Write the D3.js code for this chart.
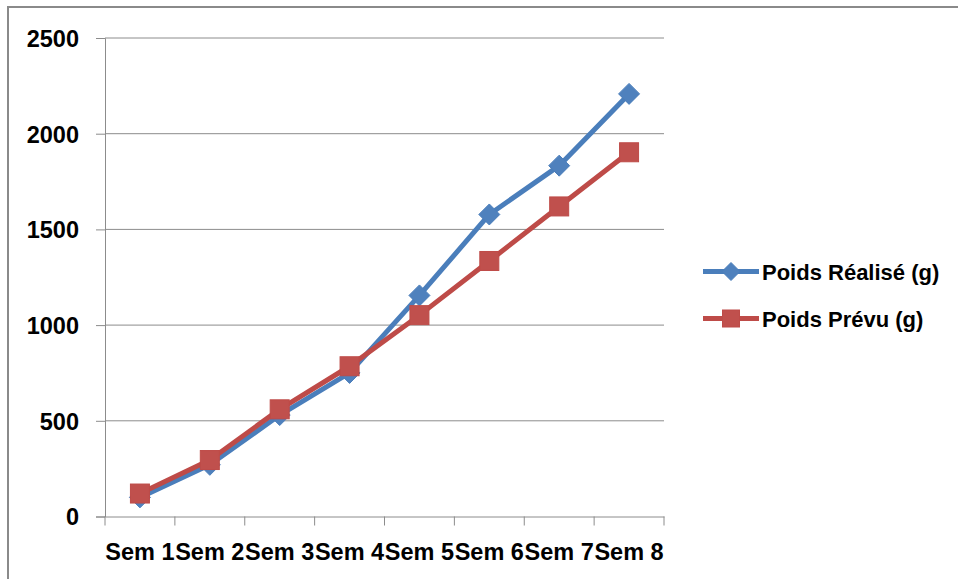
<!DOCTYPE html>
<html>
<head>
<meta charset="utf-8">
<script src="https://cdn.jsdelivr.net/npm/d3@7"></script>
<style>
  html, body { margin: 0; padding: 0; background: #fff; }
  svg { display: block; }
  text { font-family: "Liberation Sans", Arial, sans-serif; font-weight: bold; fill: #000; }
</style>
</head>
<body>
<svg id="chart" width="958" height="579"></svg>
<script>
const categories = ["Sem 1", "Sem 2", "Sem 3", "Sem 4", "Sem 5", "Sem 6", "Sem 7", "Sem 8"];
const realise = [100, 270, 530, 750, 1155, 1578, 1833, 2208];
const prevu = [120, 295, 560, 785, 1052, 1335, 1620, 1903];
const seriesNames = ["Poids Réalisé (g)", "Poids Prévu (g)"];
const yTicks = [0, 500, 1000, 1500, 2000, 2500];

const svg = d3.select("#chart");
const W = 958, H = 579;
const plot = { left: 105, right: 664, top: 38, bottom: 516.5 };

// outer frame (left and top visible)
svg.append("path")
  .attr("d", `M8,${H + 2} L8,7 L${W + 2},7`)
  .attr("fill", "none").attr("stroke", "#8a8a8a").attr("stroke-width", 2);

const x = d3.scaleBand().domain(categories).range([plot.left, plot.right]).padding(0);
const y = d3.scaleLinear().domain([0, 2500]).range([plot.bottom, plot.top]);

// gridlines
svg.append("g").selectAll("line").data(yTicks.filter(d => d > 0)).join("line")
  .attr("x1", plot.left).attr("x2", plot.right)
  .attr("y1", d => y(d)).attr("y2", d => y(d))
  .attr("stroke", "#8c8c8c").attr("stroke-width", 1);

// y axis
const yAxis = svg.append("g").attr("transform", `translate(${plot.left},0)`)
  .call(d3.axisLeft(y).tickValues(yTicks).tickSize(9).tickPadding(17).tickFormat(d3.format("d")));
yAxis.select(".domain").attr("stroke", "#8c8c8c");
yAxis.selectAll(".tick line").attr("stroke", "#8c8c8c");
yAxis.selectAll(".tick text").attr("font-size", 23.5).attr("font-family", "Liberation Sans, Arial, sans-serif")
  .attr("font-weight", "bold").attr("fill", "#000").attr("dy", "0.36em");

// x axis
const xAxis = svg.append("g").attr("transform", `translate(0,${plot.bottom})`)
  .call(d3.axisBottom(x).tickSize(0).tickPadding(0));
xAxis.select(".domain").attr("stroke", "#8c8c8c");
xAxis.selectAll(".tick text").attr("font-size", 23.5).attr("font-family", "Liberation Sans, Arial, sans-serif")
  .attr("font-weight", "bold").attr("fill", "#000").attr("y", 43).attr("dy", 0);
// category boundary ticks
const bounds = categories.map(c => x(c)).concat([x(categories[categories.length - 1]) + x.bandwidth()]);
svg.append("g").selectAll("line").data(bounds).join("line")
  .attr("x1", d => d).attr("x2", d => d)
  .attr("y1", plot.bottom).attr("y2", plot.bottom + 9)
  .attr("stroke", "#8c8c8c").attr("stroke-width", 1);

const cx = c => x(c) + x.bandwidth() / 2;
const line = d3.line().x(d => cx(d.c)).y(d => y(d.v));

const blueLine = "#4A7EBB", blueFill = "#4F81BD";
const redLine = "#BE4B48", redFill = "#C0504D";

const dataR = categories.map((c, i) => ({ c, v: realise[i] }));
const dataP = categories.map((c, i) => ({ c, v: prevu[i] }));

svg.append("path").datum(dataR).attr("d", line)
  .attr("fill", "none").attr("stroke", blueLine).attr("stroke-width", 5).attr("stroke-linejoin", "round");
const diamond = (px, py, r) => `M${px},${py - r}L${px + r},${py}L${px},${py + r}L${px - r},${py}Z`;
svg.append("g").selectAll("path").data(dataR).join("path")
  .attr("d", d => diamond(cx(d.c), y(d.v), 10.5))
  .attr("fill", blueFill).attr("stroke", blueLine).attr("stroke-width", 1);

svg.append("path").datum(dataP).attr("d", line)
  .attr("fill", "none").attr("stroke", redLine).attr("stroke-width", 5).attr("stroke-linejoin", "round");
svg.append("g").selectAll("rect").data(dataP).join("rect")
  .attr("x", d => cx(d.c) - 9.5).attr("y", d => y(d.v) - 9.5)
  .attr("width", 19).attr("height", 19)
  .attr("fill", redFill).attr("stroke", redLine).attr("stroke-width", 1);

// legend
const legend = svg.append("g");
const legItems = [
  { name: seriesNames[0], color: blueLine, fill: blueFill, marker: "diamond", y: 271.5 },
  { name: seriesNames[1], color: redLine, fill: redFill, marker: "square", y: 318.5 }
];
legItems.forEach(it => {
  legend.append("line").attr("x1", 703).attr("x2", 759).attr("y1", it.y).attr("y2", it.y)
    .attr("stroke", it.color).attr("stroke-width", 5);
  if (it.marker === "diamond") {
    legend.append("path").attr("d", diamond(731, it.y, 9)).attr("fill", it.fill).attr("stroke", it.color);
  } else {
    legend.append("rect").attr("x", 722.5).attr("y", it.y - 8.5).attr("width", 17).attr("height", 17)
      .attr("fill", it.fill).attr("stroke", it.color);
  }
  legend.append("text").attr("x", 762).attr("y", it.y + 8).attr("font-size", 22).text(it.name);
});
</script>
</body>
</html>
